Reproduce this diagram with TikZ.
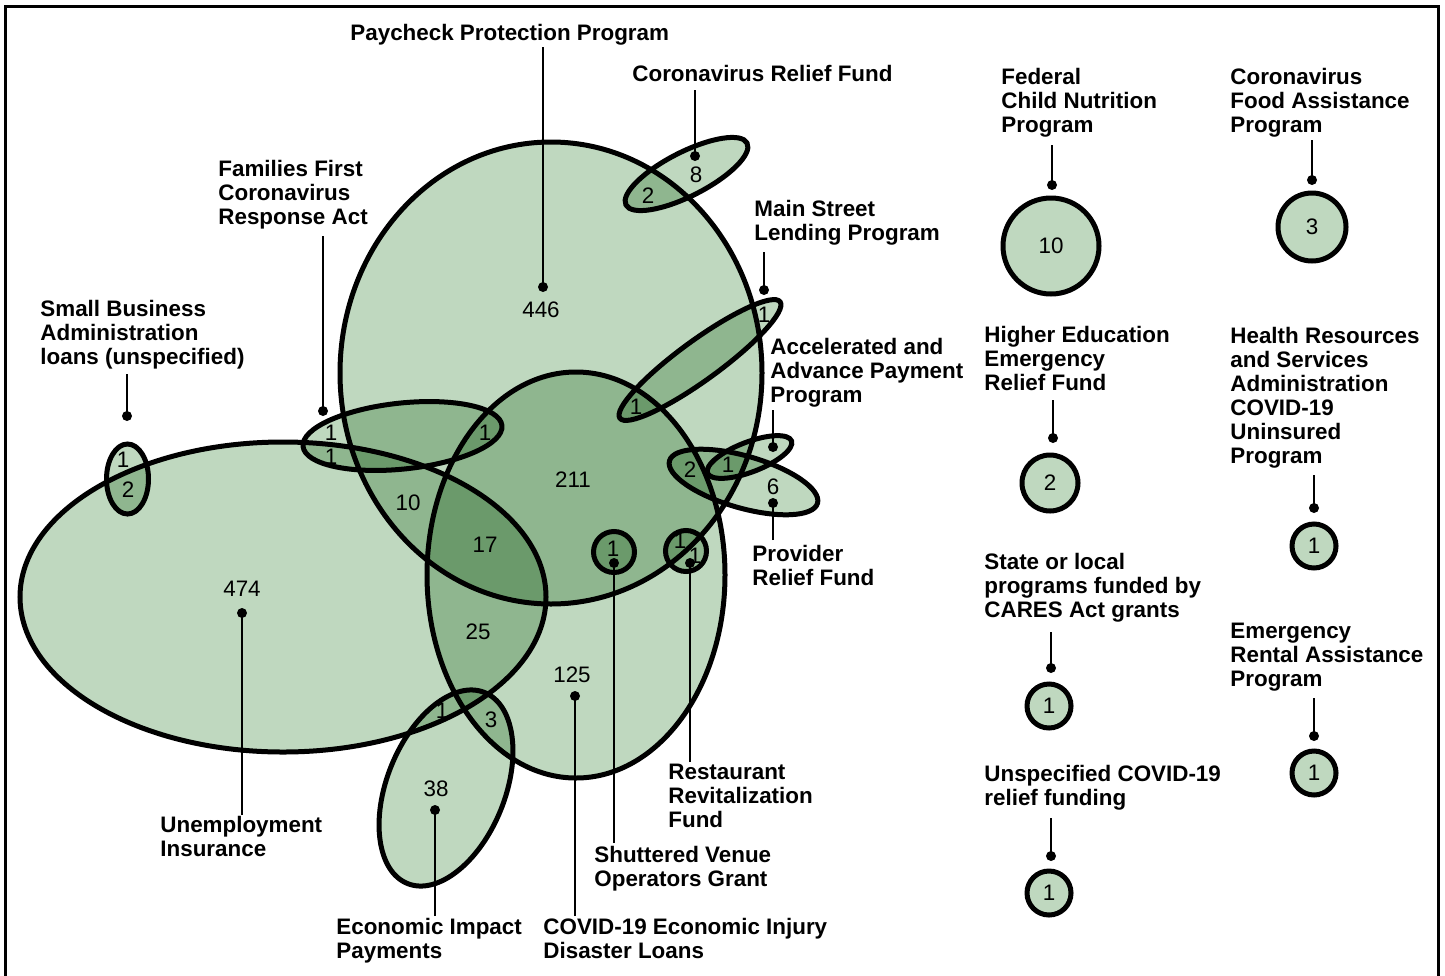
\documentclass[tikz,border=0pt]{standalone}
\usepackage{fontspec}
\setmainfont{Liberation Sans}
\newcommand\labfont{\fontsize{11.2}{12}\selectfont\bfseries}
\newcommand\numfont{\fontsize{11.2}{12}\selectfont}
\definecolor{vennfill}{RGB}{191,216,191}
\begin{document}
\begin{tikzpicture}[x=0.5pt,y=-0.5pt,
  venn/.style={fill=vennfill, draw=black, line width=2.5pt, blend mode=multiply},
  lab/.style={font=\labfont, align=left, anchor=north west, inner sep=0pt},
  num/.style={font=\numfont, inner sep=0pt},
  dot/.style={circle, fill=black, inner sep=0pt, minimum size=5pt},
  leader/.style={line width=0.75pt},
  single/.style={circle, draw=black, line width=2.5pt, fill=vennfill, inner sep=0pt, font=\numfont}
]
\useasboundingbox (0,0) rectangle (1445,975);
\draw[line width=1.5pt] (5,995) -- (5,6) -- (1438,6) -- (1438,995);

% Venn shapes
\path[venn] (551,373) ellipse[x radius=105.5pt, y radius=115.5pt];
\path[venn] (576,575) ellipse[x radius=74.5pt, y radius=101.5pt];
\path[venn] (283,597) ellipse[x radius=131.5pt, y radius=77.5pt];
\path[venn] (402.5,436) ellipse[x radius=50pt, y radius=16.5pt, rotate=6];
\path[venn] (127.5,479) ellipse[x radius=10.5pt, y radius=17.5pt];
\path[venn] (686.5,174) ellipse[x radius=34pt, y radius=11pt, rotate=27];
\path[venn] (700,360) ellipse[x radius=49.5pt, y radius=10pt, rotate=36];
\path[venn] (743.5,482) ellipse[x radius=38.5pt, y radius=13pt, rotate=-16];
\path[venn] (749.5,457) ellipse[x radius=22.5pt, y radius=7.5pt, rotate=21];
\path[venn] (614,552) circle[radius=10.25pt];
\path[venn] (686,551) circle[radius=10.25pt];
\path[venn] (446,788) ellipse[x radius=51.5pt, y radius=29.5pt, rotate=68];

% numbers in the Venn diagram
\node[num] (n446) at (541,310) {446};
\node[num] (n8) at (696,175) {8};
\node[num] (n2a) at (648,196) {2};
\node[num] (n1ms) at (764,315) {1};
\node[num] (n1msb) at (636,407) {1};
\node[num] (n211) at (573,480) {211};
\node[num] (n1fa) at (331,433) {1};
\node[num] (n1fb) at (331,457) {1};
\node[num] (n1fc) at (485,433) {1};
\node[num] (n10) at (408,503) {10};
\node[num] (n17) at (485,545) {17};
\node[num] (n474) at (242,589) {474};
\node[num] (n25) at (478,632) {25};
\node[num] (n125) at (572,675) {125};
\node[num] (n1e) at (442,711) {1};
\node[num] (n3e) at (491,720) {3};
\node[num] (n38) at (436,789) {38};
\node[num] (n2p) at (690,470) {2};
\node[num] (n1p) at (728,465) {1};
\node[num] (n6) at (773,487) {6};
\node[num] (n1s) at (613,549) {1};
\node[num] (n1ra) at (680,541) {1};
\node[num] (n1rb) at (695,556) {1};
\node[num] (n1sba) at (123,460) {1};
\node[num] (n2sba) at (128,490) {2};

% single circles
\node[single, minimum size=48pt] (cFed) at (1051,246) {10};
\node[single, minimum size=34pt] (cCFAP) at (1312,227) {3};
\node[single, minimum size=28pt] (cHE) at (1050,483) {2};
\node[single, minimum size=22pt] (cHRSA) at (1314,546) {1};
\node[single, minimum size=22pt] (cState) at (1049,706) {1};
\node[single, minimum size=22pt] (cERA) at (1314,773) {1};
\node[single, minimum size=22pt] (cUnsp) at (1049,893) {1};

% labels
\node[lab] (lPPP) at (350,24) {Paycheck Protection Program};
\node[lab] (lCRF) at (632,65) {Coronavirus Relief Fund};
\node[lab] (lFF) at (218,160) {Families First\\Coronavirus\\Response Act};
\node[lab] (lMS) at (754,200) {Main Street\\Lending Program};
\node[lab] (lSBA) at (40,300) {Small Business\\Administration\\loans (unspecified)};
\node[lab] (lAAP) at (770,338) {Accelerated and\\Advance Payment\\Program};
\node[lab] (lPRF) at (752,545) {Provider\\Relief Fund};
\node[lab] (lUI) at (160,816) {Unemployment\\Insurance};
\node[lab] (lRRF) at (668,764) {Restaurant\\Revitalization\\Fund};
\node[lab] (lSV) at (594,846) {Shuttered Venue\\Operators Grant};
\node[lab] (lEIP) at (336,918) {Economic Impact\\Payments};
\node[lab] (lEIDL) at (543,918) {COVID-19 Economic Injury\\Disaster Loans};
\node[lab] (lFed) at (1001,68) {Federal\\Child Nutrition\\Program};
\node[lab] (lCFAP) at (1230,68) {Coronavirus\\Food Assistance\\Program};
\node[lab] (lHE) at (984,326) {Higher Education\\Emergency\\Relief Fund};
\node[lab] (lHRSA) at (1230,327) {Health Resources\\and Services\\Administration\\COVID-19\\Uninsured\\Program};
\node[lab] (lState) at (984,553) {State or local\\programs funded by\\CARES Act grants};
\node[lab] (lERA) at (1230,623) {Emergency\\Rental Assistance\\Program};
\node[lab] (lUnsp) at (984,765) {Unspecified COVID-19\\relief funding};

% leader dots and end points
\node[dot] (dPPP) at (543,287) {};   \coordinate (ePPP) at (543,47);
\node[dot] (dCRF) at (695,156) {};   \coordinate (eCRF) at (695,90);
\node[dot] (dFF) at (323,411) {};    \coordinate (eFF) at (323,236);
\node[dot] (dMS) at (764,290) {};    \coordinate (eMS) at (764,252);
\node[dot] (dSBA) at (127,416) {};   \coordinate (eSBA) at (127,374);
\node[dot] (dAAP) at (773,447) {};   \coordinate (eAAP) at (773,410);
\node[dot] (dPRF) at (773,503) {};   \coordinate (ePRF) at (773,540);
\node[dot] (dUI) at (242,613) {};    \coordinate (eUI) at (242,815);
\node[dot] (dRRF) at (690,563) {};   \coordinate (eRRF) at (690,762);
\node[dot] (dSV) at (614,563) {};    \coordinate (eSV) at (614,843);
\node[dot] (dEIP) at (435,810) {};   \coordinate (eEIP) at (435,916);
\node[dot] (dEIDL) at (575,696) {};  \coordinate (eEIDL) at (575,916);
\node[dot] (dFed) at (1052,185) {};  \coordinate (eFed) at (1052,145);
\node[dot] (dCFAP) at (1312,180) {}; \coordinate (eCFAP) at (1312,140);
\node[dot] (dHE) at (1053,438) {};   \coordinate (eHE) at (1053,400);
\node[dot] (dHRSA) at (1314,508) {}; \coordinate (eHRSA) at (1314,475);
\node[dot] (dState) at (1051,668) {};\coordinate (eState) at (1051,632);
\node[dot] (dERA) at (1314,736) {};  \coordinate (eERA) at (1314,698);
\node[dot] (dUnsp) at (1051,856) {}; \coordinate (eUnsp) at (1051,818);

\foreach \k in {PPP,CRF,FF,MS,SBA,AAP,PRF,UI,RRF,SV,EIP,EIDL,Fed,CFAP,HE,HRSA,State,ERA,Unsp}
  \draw[leader] (e\k) -- (d\k.center);
\end{tikzpicture}
\end{document}
